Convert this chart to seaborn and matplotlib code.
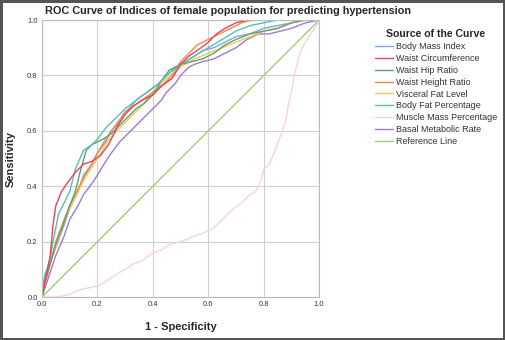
# ROC curves of body indices for predicting hypertension (female population)

import matplotlib
matplotlib.use("Agg")
import numpy as np
import pandas as pd
import matplotlib.pyplot as plt
import seaborn as sns

sns.set_style("whitegrid")
plt.rcParams['font.family'] = ['Liberation Sans', 'DejaVu Sans']

# Values (1 - specificity, sensitivity)
bmi_x = [0, 0.01, 0.03, 0.05, 0.08, 0.10, 0.13, 0.15, 0.18, 0.20, 0.23, 0.25, 0.28, 0.30, 0.33, 0.35, 0.38, 0.42, 0.45, 0.48, 0.52, 0.55, 0.58, 0.62, 0.66, 0.70, 0.75, 0.80, 0.85, 0.90, 0.95, 1.0]
bmi_y = [0, 0.08, 0.13, 0.18, 0.26, 0.32, 0.38, 0.44, 0.48, 0.52, 0.56, 0.60, 0.63, 0.66, 0.70, 0.72, 0.74, 0.77, 0.80, 0.83, 0.85, 0.87, 0.89, 0.90, 0.92, 0.94, 0.95, 0.97, 0.98, 0.99, 1.0, 1.0]

wc_x = [0, 0.01, 0.02, 0.03, 0.04, 0.05, 0.07, 0.09, 0.12, 0.15, 0.18, 0.21, 0.24, 0.26, 0.28, 0.30, 0.33, 0.36, 0.40, 0.43, 0.47, 0.50, 0.53, 0.56, 0.60, 0.63, 0.66, 0.70, 0.74, 1.0]
wc_y = [0, 0.05, 0.10, 0.15, 0.26, 0.33, 0.38, 0.41, 0.45, 0.48, 0.49, 0.51, 0.55, 0.59, 0.63, 0.66, 0.69, 0.71, 0.73, 0.76, 0.79, 0.84, 0.87, 0.89, 0.92, 0.95, 0.97, 0.99, 1.0, 1.0]

whip_x = [0, 0.01, 0.03, 0.05, 0.08, 0.10, 0.12, 0.14, 0.16, 0.18, 0.20, 0.22, 0.25, 0.28, 0.31, 0.34, 0.37, 0.40, 0.43, 0.46, 0.50, 0.54, 0.58, 0.62, 0.66, 0.70, 0.75, 0.80, 0.85, 0.90, 0.95, 1.0]
whip_y = [0, 0.06, 0.12, 0.19, 0.27, 0.33, 0.38, 0.46, 0.53, 0.55, 0.56, 0.57, 0.59, 0.62, 0.65, 0.68, 0.70, 0.73, 0.78, 0.82, 0.84, 0.85, 0.86, 0.88, 0.91, 0.93, 0.95, 0.96, 0.97, 0.99, 1.0, 1.0]

wht_x = [0, 0.01, 0.03, 0.05, 0.08, 0.10, 0.13, 0.15, 0.18, 0.20, 0.23, 0.25, 0.28, 0.30, 0.33, 0.36, 0.40, 0.44, 0.47, 0.50, 0.53, 0.56, 0.60, 0.64, 0.68, 0.72, 0.76, 0.80, 1.0]
wht_y = [0, 0.04, 0.12, 0.20, 0.28, 0.33, 0.39, 0.43, 0.48, 0.52, 0.57, 0.60, 0.64, 0.67, 0.69, 0.71, 0.74, 0.77, 0.80, 0.85, 0.88, 0.91, 0.93, 0.95, 0.97, 0.99, 1.0, 1.0, 1.0]

vfl_x = [0, 0.01, 0.03, 0.05, 0.08, 0.10, 0.13, 0.15, 0.18, 0.20, 0.23, 0.25, 0.28, 0.30, 0.33, 0.36, 0.40, 0.45, 0.50, 0.55, 0.60, 0.65, 0.70, 0.75, 0.80, 0.85, 0.90, 0.95, 1.0]
vfl_y = [0, 0.05, 0.12, 0.18, 0.27, 0.32, 0.38, 0.42, 0.47, 0.50, 0.55, 0.58, 0.61, 0.63, 0.66, 0.69, 0.74, 0.79, 0.83, 0.86, 0.88, 0.90, 0.92, 0.94, 0.96, 0.97, 0.99, 1.0, 1.0]

bfp_x = [0, 0.01, 0.03, 0.04, 0.06, 0.08, 0.10, 0.12, 0.15, 0.18, 0.20, 0.23, 0.25, 0.28, 0.30, 0.34, 0.38, 0.42, 0.45, 0.50, 0.55, 0.60, 0.65, 0.70, 0.75, 0.80, 0.85, 0.90, 1.0]
bfp_y = [0, 0.07, 0.14, 0.20, 0.30, 0.34, 0.38, 0.46, 0.53, 0.55, 0.57, 0.61, 0.63, 0.66, 0.68, 0.71, 0.74, 0.77, 0.80, 0.84, 0.87, 0.90, 0.93, 0.96, 0.98, 0.99, 1.0, 1.0, 1.0]

mmp_x = [0, 0.05, 0.10, 0.12, 0.15, 0.20, 0.22, 0.25, 0.28, 0.30, 0.33, 0.36, 0.40, 0.43, 0.46, 0.50, 0.55, 0.58, 0.62, 0.65, 0.68, 0.72, 0.75, 0.77, 0.79, 0.80, 0.82, 0.84, 0.86, 0.88, 0.89, 0.90, 0.91, 0.92, 0.93, 0.95, 0.97, 0.99, 1.0]
mmp_y = [0, 0.0, 0.01, 0.02, 0.03, 0.04, 0.05, 0.07, 0.09, 0.10, 0.12, 0.13, 0.16, 0.17, 0.19, 0.20, 0.22, 0.23, 0.25, 0.28, 0.31, 0.34, 0.37, 0.38, 0.42, 0.46, 0.48, 0.53, 0.58, 0.64, 0.70, 0.74, 0.80, 0.84, 0.88, 0.92, 0.95, 0.98, 1.0]

bmr_x = [0, 0.01, 0.03, 0.05, 0.08, 0.10, 0.13, 0.15, 0.18, 0.20, 0.23, 0.25, 0.28, 0.30, 0.33, 0.35, 0.38, 0.40, 0.43, 0.45, 0.48, 0.50, 0.53, 0.55, 0.58, 0.62, 0.66, 0.70, 0.74, 0.78, 0.82, 0.86, 0.90, 0.95, 1.0]
bmr_y = [0, 0.03, 0.09, 0.15, 0.22, 0.28, 0.33, 0.37, 0.41, 0.44, 0.49, 0.52, 0.56, 0.58, 0.61, 0.63, 0.66, 0.68, 0.71, 0.74, 0.77, 0.80, 0.83, 0.84, 0.85, 0.86, 0.88, 0.90, 0.93, 0.95, 0.95, 0.96, 0.97, 0.99, 1.0]

ref_x = [0, 1]
ref_y = [0, 1]

names = ["Body Mass Index", "Waist Circumference", "Waist Hip Ratio",
         "Waist Height Ratio", "Visceral Fat Level", "Body Fat Percentage",
         "Muscle Mass Percentage", "Basal Metabolic Rate", "Reference Line"]
xs = [bmi_x, wc_x, whip_x, wht_x, vfl_x, bfp_x, mmp_x, bmr_x, ref_x]
ys = [bmi_y, wc_y, whip_y, wht_y, vfl_y, bfp_y, mmp_y, bmr_y, ref_y]
colors = ["#7ea6e0", "#e8435a", "#5fa36b", "#f08a4b", "#f7c65c",
          "#56c0b8", "#f8d3dc", "#a07ad0", "#9ccf7c"]

fig = plt.figure(figsize=(5.05, 3.4), dpi=100)
fig.patch.set_edgecolor("#555555")
fig.patch.set_linewidth(2.5)
ax = fig.add_axes([0.083, 0.126, 0.549, 0.815])

# draw the reference line and muscle mass first so the others sit on top
order = [8, 6, 7, 0, 4, 3, 2, 5, 1]
for i in order:
    df = pd.DataFrame({"x": xs[i], "y": ys[i]})
    sns.lineplot(data=df, x="x", y="y", ax=ax, color=colors[i], lw=1.0,
                 estimator=None, sort=False, label=names[i])

ax.set_xlim(0, 1)
ax.set_ylim(0, 1)
ticks = [0.0, 0.2, 0.4, 0.6, 0.8, 1.0]
ax.set_xticks(ticks)
ax.set_yticks(ticks)
ax.set_xticklabels([f"{t:.1f}" for t in ticks], fontsize=5.5, color="#333333")
ax.set_yticklabels([f"{t:.1f}" for t in ticks], fontsize=5.5, color="#333333")
ax.tick_params(axis="x", pad=3, length=0)
ax.tick_params(axis="y", pad=3, length=0)
ax.grid(True, color="#d0d0d0", lw=0.8)
for s in ax.spines.values():
    s.set_color("#bbbbbb")
    s.set_linewidth(0.8)

ax.set_xlabel("1 - Specificity", fontsize=8, fontweight="bold", labelpad=10)
ax.set_ylabel("Sensitivity", fontsize=8, fontweight="bold", labelpad=8)

fig.text(0.452, 0.968, "ROC Curve of Indices of female population for predicting hypertension",
         ha="center", va="center", fontsize=7.8, fontweight="bold")

handles, labels = ax.get_legend_handles_labels()
lookup = dict(zip(labels, handles))
leg = ax.legend([lookup[n] for n in names], names, loc="upper left",
                bbox_to_anchor=(0.735, 0.925), bbox_transform=fig.transFigure,
                frameon=False, fontsize=6.5, title="Source of the Curve",
                title_fontproperties={"weight": "bold", "size": 7.6},
                handlelength=2.0, handletextpad=0.3, labelspacing=0.32,
                borderaxespad=0)
for t in leg.get_texts():
    t.set_color("#333333")

fig.savefig("out.png", dpi=100, facecolor="white", edgecolor="#555555")
